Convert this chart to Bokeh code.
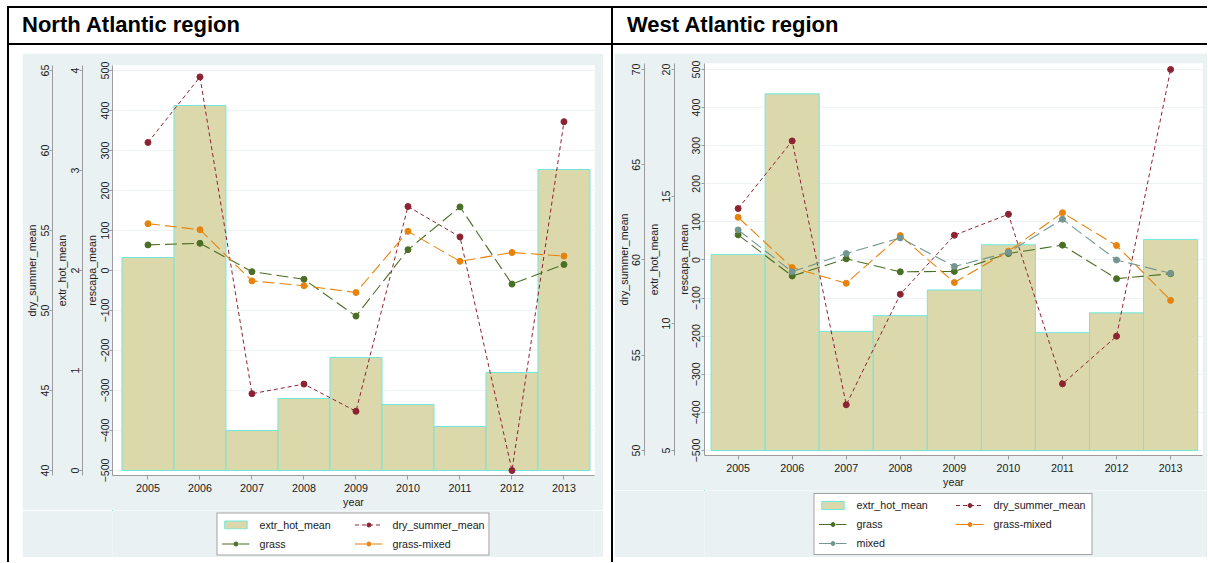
from bokeh.plotting import figure
from bokeh.models import (Range1d, LinearAxis, FixedTicker, Legend, LegendItem,
                          Div, Spacer)
from bokeh.layouts import row, column
from bokeh.embed import file_html
from bokeh.resources import INLINE

# ---------------- data ----------------
years = [2005, 2006, 2007, 2008, 2009, 2010, 2011, 2012, 2013]

# North Atlantic region
na_extr_hot_mean = [2.13, 3.65, 0.40, 0.72, 1.13, 0.66, 0.44, 0.98, 3.01]
na_dry_summer_mean = [60.5, 64.6, 44.8, 45.4, 43.7, 56.5, 54.6, 40.0, 61.8]
na_grass = [64, 68, -3, -22, -114, 52, 159, -34, 15]
na_grass_mixed = [117, 102, -26, -38, -55, 98, 23, 45, 36]

# West Atlantic region
wa_extr_hot_mean = [12.72, 19.04, 9.69, 10.31, 11.32, 13.10, 9.64, 10.42, 13.31]
wa_dry_summer_mean = [62.7, 66.25, 52.4, 58.2, 61.3, 62.4, 53.5, 56.0, 70.0]
wa_grass = [66, -42, 3, -31, -30, 17, 39, -49, -36]
wa_grass_mixed = [112, -20, -61, 64, -59, 23, 124, 38, -106]
wa_mixed = [79, -31, 17, 58, -17, 20, 107, 0, -35]

# tick labels
rescapa_ticks = [-500, -400, -300, -200, -100, 0, 100, 200, 300, 400, 500]
na_extr_ticks = [0, 1, 2, 3, 4]
na_dry_ticks = [40, 45, 50, 55, 60, 65]
wa_extr_ticks = [5, 10, 15, 20]
wa_dry_ticks = [50, 55, 60, 65, 70]

titles = ["North Atlantic region", "West Atlantic region"]

# ---------------- style ----------------
FONT = "Liberation Sans"
FS = "10.7px"
GRAY_BG = "#e9f1f3"
AXIS_COL = "#9c9c9c"
TEXT_COL = "#1a1a1a"
BAR_STYLE = dict(fill_color="#dbd8ac", line_color="#6fe8dc", line_width=1)
C_DRY = "#8c2332"
C_GRASS = "#4a6e23"
C_GM = "#e8820a"
C_MIXED = "#739690"
DRY_DASH = "4 3"
SER_DASH = "12 5"


def rng(ticks, lo, hi):
    span = ticks[-1] - ticks[0]
    return Range1d(start=ticks[0] - lo * span, end=ticks[-1] + hi * span)


def style_axis(ax, label, vertical=True):
    ax.axis_label = label
    ax.axis_label_text_font = FONT
    ax.axis_label_text_font_size = FS
    ax.axis_label_text_font_style = "normal"
    ax.axis_label_text_color = TEXT_COL
    ax.major_label_text_font = FONT
    ax.major_label_text_font_size = FS
    ax.major_label_text_color = TEXT_COL
    if vertical:
        ax.major_label_orientation = "vertical"
    ax.major_label_standoff = 1
    ax.axis_label_standoff = 0
    ax.major_tick_out = 3
    ax.major_tick_in = 0
    ax.minor_tick_line_color = None
    ax.axis_line_color = AXIS_COL
    ax.major_tick_line_color = AXIS_COL


def make_chart(width, height, xr, pads, extr, dry, series, extr_ticks, dry_ticks,
               mb_left, mb_right, mb_top, mb_bottom):
    lo, hi = pads
    p = figure(width=width, height=height, x_range=xr,
               y_range=rng(rescapa_ticks, lo, hi),
               output_backend="svg", toolbar_location=None,
               min_border_left=mb_left, min_border_right=mb_right,
               min_border_top=mb_top, min_border_bottom=mb_bottom,
               background_fill_color="white", border_fill_color=GRAY_BG,
               outline_line_color=None)
    p.extra_y_ranges = {"extr": rng(extr_ticks, lo, hi), "dry": rng(dry_ticks, lo, hi)}

    ya = p.yaxis[0]
    ya.ticker = FixedTicker(ticks=rescapa_ticks)
    style_axis(ya, "rescapa_mean")
    ax_extr = LinearAxis(y_range_name="extr", ticker=FixedTicker(ticks=extr_ticks))
    style_axis(ax_extr, "extr_hot_mean")
    p.add_layout(ax_extr, "left")
    ax_dry = LinearAxis(y_range_name="dry", ticker=FixedTicker(ticks=dry_ticks))
    style_axis(ax_dry, "dry_summer_mean")
    p.add_layout(ax_dry, "left")

    xa = p.xaxis[0]
    xa.ticker = FixedTicker(ticks=years)
    style_axis(xa, "year", vertical=False)
    xa.major_tick_out = 4
    xa.major_label_standoff = 4
    xa.axis_label_standoff = 1

    p.xgrid.visible = False
    p.ygrid.ticker = FixedTicker(ticks=rescapa_ticks)
    p.ygrid.grid_line_color = "#edf3f4"

    p.vbar(x=years, top=extr, bottom=extr_ticks[0], width=1.0,
           y_range_name="extr", **BAR_STYLE)
    p.line(years, dry, y_range_name="dry", line_color=C_DRY, line_width=1,
           line_dash=DRY_DASH)
    p.scatter(years, dry, y_range_name="dry", size=6, fill_color=C_DRY,
              line_color=C_DRY)
    for name, vals, col in series:
        p.line(years, vals, line_color=col, line_width=1.1, line_dash=SER_DASH)
        p.scatter(years, vals, size=6, fill_color=col, line_color=col)
    return p


def make_legend(width, height, extr, dry, series, mb_left, mb_right, lab_w):
    """Legend strip under the chart (the chart frame would clip a legend below it).
    Its renderers hold the same data, but the strip's ranges lie past the last year
    and below every value, so no mark reaches the strip: only legend keys are drawn."""
    q = figure(width=width, height=height,
               x_range=Range1d(years[-1] + 2, years[-1] + 3),
               y_range=Range1d(-1001, -1000),
               output_backend="svg", toolbar_location=None,
               x_axis_type=None, y_axis_type=None,
               min_border_left=mb_left, min_border_right=mb_right,
               min_border_top=0, min_border_bottom=0,
               background_fill_color=GRAY_BG, border_fill_color=GRAY_BG,
               outline_line_color=None)
    q.xgrid.visible = False
    q.ygrid.visible = False
    bars = q.vbar(x=years, top=extr, bottom=0, width=1.0, **BAR_STYLE)
    items = [LegendItem(label="extr_hot_mean", renderers=[bars])]
    dl = q.line(years, dry, line_color=C_DRY, line_width=1, line_dash=DRY_DASH)
    ds = q.scatter(years, dry, size=6, fill_color=C_DRY, line_color=C_DRY)
    items.append(LegendItem(label="dry_summer_mean", renderers=[dl, ds]))
    for name, vals, col in series:
        l = q.line(years, vals, line_color=col, line_width=1.1, line_dash=SER_DASH)
        s = q.scatter(years, vals, size=6, fill_color=col, line_color=col)
        items.append(LegendItem(label=name, renderers=[l, s]))
    leg = Legend(items=items, orientation="horizontal", ncols=2, location="center",
                 label_text_font=FONT, label_text_font_size=FS,
                 label_text_color=TEXT_COL, glyph_width=28, glyph_height=10,
                 label_height=14, label_width=lab_w, label_standoff=10,
                 spacing=5, padding=4,
                 margin=0, border_line_color="#444444", border_line_width=1,
                 background_fill_color="white", background_fill_alpha=1.0)
    q.add_layout(leg)
    return q


na_series = [("grass", na_grass, C_GRASS), ("grass-mixed", na_grass_mixed, C_GM)]
wa_series = [("grass", wa_grass, C_GRASS), ("grass-mixed", wa_grass_mixed, C_GM),
             ("mixed", wa_mixed, C_MIXED)]

figL = make_chart(581, 457, Range1d(2004.318, 2013.587), (0.0125, 0.0125),
                  na_extr_hot_mean, na_dry_summer_mean, na_series,
                  na_extr_ticks, na_dry_ticks, 83, 9, 12, 35)
legL = make_legend(581, 47, na_extr_hot_mean, na_dry_summer_mean, na_series,
                   83, 9, 90)

figR = make_chart(593, 437, Range1d(2004.378, 2013.59), (0.0131, 0.0157),
                  wa_extr_hot_mean, wa_dry_summer_mean, wa_series,
                  wa_extr_ticks, wa_dry_ticks, 89, 5, 10, 35)
legR = make_legend(593, 67, wa_extr_hot_mean, wa_dry_summer_mean, wa_series,
                   89, 5, 94)


def title_div(text, width, pad_left):
    html = ('<div style="font-family:\'Liberation Sans\',Arial,sans-serif;'
            'font-weight:bold;font-size:22px;line-height:22px;color:#000;'
            'padding-top:6px;padding-left:%dpx;white-space:nowrap;">%s</div>'
            % (pad_left, text))
    return Div(text=html, width=width, height=39, margin=0,
               styles={"box-sizing": "border-box",
                       "border-top": "2px solid black",
                       "border-bottom": "2px solid black",
                       "border-left": "2px solid black",
                       "background-color": "white"})


def vline(h):
    return Div(text="", width=2, height=h, margin=0,
               styles={"background-color": "black"})


H = 517
top_pad = Spacer(width=1207, height=6)
title_row = row(Spacer(width=7, height=39),
                title_div(titles[0], 604, 13), title_div(titles[1], 596, 14),
                spacing=0)

chart_row = row(Spacer(width=7, height=H), vline(H), Spacer(width=13, height=H),
                column(Spacer(width=581, height=8), figL, legL, spacing=0),
                Spacer(width=8, height=H), vline(H), Spacer(width=1, height=H),
                column(Spacer(width=593, height=8), figR, legR, spacing=0),
                spacing=0)

layout = column(top_pad, title_row, chart_row, spacing=0)

open("out.html", "w").write(file_html(layout, INLINE))
